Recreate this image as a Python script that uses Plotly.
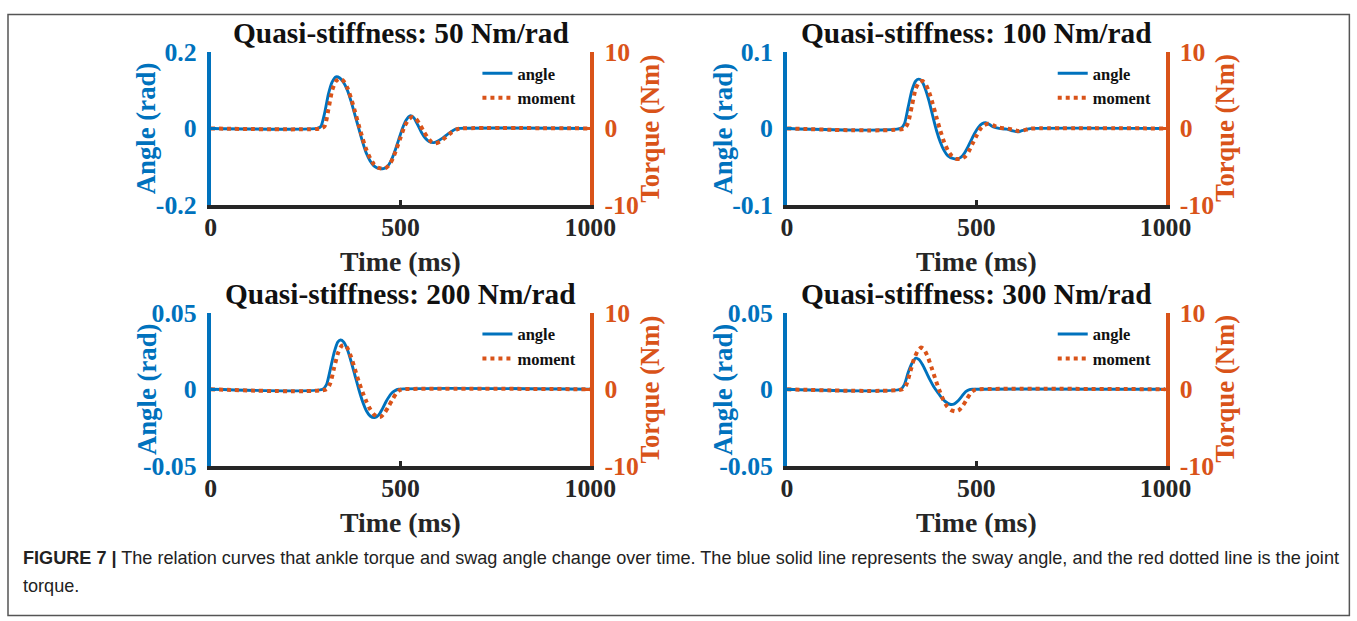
import plotly.graph_objects as go

# ---------------- data ----------------
titles = ["Quasi-stiffness: 50 Nm/rad", "Quasi-stiffness: 100 Nm/rad",
          "Quasi-stiffness: 200 Nm/rad", "Quasi-stiffness: 300 Nm/rad"]
angle_ranges = [0.2, 0.1, 0.05, 0.05]
angle_ticktext = [["-0.2", "0", "0.2"], ["-0.1", "0", "0.1"],
                  ["-0.05", "0", "0.05"], ["-0.05", "0", "0.05"]]
torque_range = 10
x_ticks = [0, 500, 1000]

# 50 Nm/rad
t_angle_1 = [0, 280, 290, 300, 310, 320, 330, 340, 350, 360, 370, 380, 390, 400, 410, 420, 430, 440, 455,
             465, 475, 485, 495, 505, 515, 525, 535, 545, 555, 565, 575, 588, 600, 615, 630, 645, 655, 1000]
angle_1 = [0, 0, 0.005, 0.04, 0.09, 0.122, 0.135, 0.132, 0.12, 0.1, 0.07, 0.035, 0.0, -0.035, -0.065, -0.085,
           -0.098, -0.104, -0.105, -0.1, -0.085, -0.06, -0.03, 0.0, 0.022, 0.033, 0.028, 0.01, -0.01, -0.025,
           -0.034, -0.037, -0.032, -0.022, -0.011, -0.002, 0, 0]
t_moment_1 = [0, 290, 300, 310, 320, 330, 340, 350, 360, 370, 380, 390, 400, 410, 420, 430, 440, 450, 460, 470,
              480, 490, 500, 510, 520, 530, 540, 550, 560, 570, 580, 592, 605, 620, 635, 650, 660, 1000]
moment_1 = [0, 0, 0.3, 2.5, 5.0, 6.2, 6.5, 6.2, 5.3, 3.9, 2.2, 0.4, -1.3, -2.8, -3.9, -4.7, -5.1, -5.25, -5.2,
            -4.8, -3.9, -2.6, -1.2, 0.2, 1.1, 1.5, 1.3, 0.6, -0.3, -1.1, -1.7, -1.95, -1.7, -1.1, -0.5, -0.1, 0, 0]

# 100 Nm/rad
t_angle_2 = [0, 300, 310, 320, 330, 340, 348, 356, 365, 375, 385, 395, 405, 415, 425, 440, 455, 465, 475, 485,
             495, 505, 515, 525, 535, 545, 560, 580, 595, 610, 620, 635, 650, 1000]
angle_2 = [0, 0, 0.006, 0.028, 0.05, 0.062, 0.0645, 0.062, 0.052, 0.036, 0.016, -0.003, -0.018, -0.029, -0.036,
           -0.0395, -0.039, -0.035, -0.027, -0.017, -0.007, 0.001, 0.006, 0.0075, 0.005, 0.002, 0.0, -0.001,
           -0.003, -0.0045, -0.003, -0.001, 0.0, 0]
t_moment_2 = [0, 310, 320, 330, 340, 350, 358, 366, 375, 385, 395, 405, 415, 425, 435, 445, 458, 470, 480, 490,
              500, 510, 520, 532, 545, 560, 580, 600, 612, 625, 640, 655, 1000]
moment_2 = [0, 0, 0.8, 3.0, 5.2, 6.1, 6.2, 5.8, 4.8, 3.2, 1.4, -0.3, -1.8, -2.9, -3.6, -3.95, -4.0, -3.7, -3.0,
            -2.0, -1.0, -0.1, 0.4, 0.6, 0.4, 0.1, 0.0, -0.2, -0.35, -0.25, -0.05, 0, 0]

# 200 Nm/rad
t_angle_3 = [0, 295, 305, 315, 325, 335, 342, 350, 360, 370, 380, 390, 400, 410, 420, 432, 442, 452, 462, 475,
             485, 495, 1000]
angle_3 = [0, 0, 0.003, 0.013, 0.024, 0.031, 0.0322, 0.031, 0.026, 0.018, 0.009, 0.0, -0.008, -0.014, -0.0175,
           -0.0185, -0.017, -0.013, -0.008, -0.003, -0.001, 0, 0]
t_moment_3 = [0, 305, 315, 325, 335, 345, 352, 360, 370, 380, 390, 400, 410, 420, 430, 440, 448, 458, 468, 478,
              488, 498, 505, 1000]
moment_3 = [0, 0, 0.8, 2.8, 4.7, 5.7, 5.8, 5.4, 4.2, 2.6, 1.0, -0.4, -1.6, -2.6, -3.3, -3.6, -3.6, -3.1, -2.3,
            -1.4, -0.6, -0.1, 0, 0]

# 300 Nm/rad
t_angle_4 = [0, 300, 310, 320, 330, 340, 348, 358, 368, 378, 388, 398, 408, 418, 430, 442, 452, 462, 472, 482,
             490, 1000]
angle_4 = [0, 0, 0.003, 0.011, 0.017, 0.0203, 0.0195, 0.016, 0.011, 0.006, 0.0015, -0.002, -0.0055, -0.008,
           -0.0098, -0.0095, -0.0075, -0.0045, -0.0015, -0.0002, 0, 0]
t_moment_4 = [0, 305, 315, 325, 335, 345, 354, 362, 372, 382, 392, 402, 412, 422, 432, 445, 455, 465, 475, 485,
              495, 505, 1000]
moment_4 = [0, 0, 0.6, 2.2, 3.9, 5.0, 5.45, 5.2, 4.2, 2.8, 1.3, -0.1, -1.3, -2.2, -2.7, -2.9, -2.7, -2.1, -1.3,
            -0.5, -0.1, 0, 0]

t_angles = [t_angle_1, t_angle_2, t_angle_3, t_angle_4]
angles = [angle_1, angle_2, angle_3, angle_4]
t_moments = [t_moment_1, t_moment_2, t_moment_3, t_moment_4]
moments = [moment_1, moment_2, moment_3, moment_4]

caption_bold = "FIGURE 7 |"
caption_line1 = (" The relation curves that ankle torque and swag angle change over time. "
                 "The blue solid line represents the sway angle, and the red dotted line is the joint")
caption_line2 = "torque."

# ---------------- styling / layout ----------------
BLUE = "#0072BD"
ORANGE = "#D95319"
DARK = "#262626"
SERIF = "Liberation Serif"

# figure canvas (slightly larger than the window-sized photo it ends up in)
W, H = 1380, 636
SX, OX = 0.978, 5.0
SY, OY = 0.955, 12.0
FS = 1.03  # font scale

def fx(px):
    return ((px - OX) / SX) / W

def fy(py):
    return 1 - ((py - OY) / SY) / H

cols = [(210, 590), (787, 1166)]
rows = [(50, 203), (311, 464)]

fig = go.Figure()
annotations = []

for i in range(4):
    r, c = divmod(i, 2)
    xl, xr = cols[c]
    yt, yb = rows[r]
    n = i + 1
    xa = "x" if n == 1 else f"x{n}"
    ya = f"y{2 * n - 1}" if n > 1 else "y"
    yb_name = f"y{2 * n}"
    leg = "legend" if n == 1 else f"legend{n}"

    fig.add_trace(go.Scatter(x=t_angles[i], y=angles[i], mode="lines", name="angle",
                             line=dict(color=BLUE, width=2.9, shape="spline", smoothing=0.6),
                             xaxis=xa, yaxis=ya, legend=leg))
    fig.add_trace(go.Scatter(x=t_moments[i], y=moments[i], mode="lines", name="moment",
                             line=dict(color=ORANGE, width=4, dash="4px,4px", shape="spline", smoothing=0.6),
                             xaxis=xa, yaxis=yb_name, legend=leg))

    xkey = "xaxis" if n == 1 else f"xaxis{n}"
    ykey = "yaxis" if n == 1 else f"yaxis{2 * n - 1}"
    y2key = f"yaxis{2 * n}"
    ar = angle_ranges[i]
    fig.layout[xkey] = dict(domain=[fx(xl), fx(xr)], anchor=ya, range=[0, 1000],
                            showline=True, linecolor=DARK, linewidth=4, ticks="inside", ticklen=5,
                            tickwidth=3, tickcolor=DARK, tickvals=x_ticks, showgrid=False, zeroline=False,
                            tickfont=dict(family=SERIF, size=25 * FS, color=DARK, weight="bold"),
                            ticklabelstandoff=-4)
    fig.layout[ykey] = dict(domain=[fy(yb), fy(yt)], anchor=xa, range=[-ar, ar],
                            showline=True, linecolor=BLUE, linewidth=4, ticks="inside", ticklen=5,
                            tickwidth=3, tickcolor=BLUE, tickvals=[-ar, 0, ar], ticktext=angle_ticktext[i],
                            showgrid=False, zeroline=False, ticklabelstandoff=5,
                            tickfont=dict(family=SERIF, size=25 * FS, color=BLUE, weight="bold"))
    fig.layout[y2key] = dict(overlaying=ya, anchor=xa, side="right", range=[-torque_range, torque_range],
                             showline=True, linecolor=ORANGE, linewidth=4, ticks="inside", ticklen=5,
                             tickwidth=3, tickcolor=ORANGE, tickvals=[-10, 0, 10], ticktext=["-10", "0", "10"],
                             showgrid=False, zeroline=False, ticklabelstandoff=5,
                             tickfont=dict(family=SERIF, size=25 * FS, color=ORANGE, weight="bold"))
    fig.layout[leg] = dict(x=fx(xr - 113), y=fy(yt + 4), xanchor="left", yanchor="top",
                           bgcolor="rgba(255,255,255,0)", borderwidth=0,
                           font=dict(family=SERIF, size=16.5, color="#111", weight="bold"),
                           tracegroupgap=0, itemwidth=30)

    cx = (xl + xr) / 2
    annotations.append(dict(text=titles[i], x=fx(cx), y=fy(yt - 19), xref="paper", yref="paper",
                            showarrow=False, xanchor="center", yanchor="middle",
                            font=dict(family=SERIF, size=28.5 * FS, color="#111", weight="bold")))
    annotations.append(dict(text="Time (ms)", x=fx(cx), y=fy(yb + 57), xref="paper", yref="paper",
                            showarrow=False, xanchor="center", yanchor="middle",
                            font=dict(family=SERIF, size=27 * FS, color=DARK, weight="bold")))
    annotations.append(dict(text="Angle (rad)", x=fx(xl - 64), y=fy((yt + yb) / 2), xref="paper", yref="paper",
                            showarrow=False, xanchor="center", yanchor="middle", textangle=-90,
                            font=dict(family=SERIF, size=26 * FS, color=BLUE, weight="bold")))
    annotations.append(dict(text="Torque (Nm)", x=fx(xr + 60), y=fy((yt + yb) / 2), xref="paper", yref="paper",
                            showarrow=False, xanchor="center", yanchor="middle", textangle=-90,
                            font=dict(family=SERIF, size=26 * FS, color=ORANGE, weight="bold")))

annotations.append(dict(text="<b>" + caption_bold + "</b>" + caption_line1, x=fx(20), y=fy(556),
                        xref="paper", yref="paper", showarrow=False, xanchor="left", yanchor="middle",
                        font=dict(family="Liberation Sans", size=18.1, color="#222")))
annotations.append(dict(text=caption_line2, x=fx(20), y=fy(584),
                        xref="paper", yref="paper", showarrow=False, xanchor="left", yanchor="middle",
                        font=dict(family="Liberation Sans", size=18.1, color="#222")))

fig.update_layout(
    width=W, height=H, margin=dict(l=0, r=0, t=0, b=0),
    paper_bgcolor="white", plot_bgcolor="white",
    annotations=annotations,
    shapes=[dict(type="rect", xref="paper", yref="paper", x0=fx(7), x1=fx(1350), y0=fy(614),
                 y1=min(fy(7), 0.999), line=dict(color="#555", width=1.5))],
)

fig.write_html("out.html", config={"displayModeBar": False},
               post_script="document.body.style.margin='0px';document.body.style.overflow='hidden';")
